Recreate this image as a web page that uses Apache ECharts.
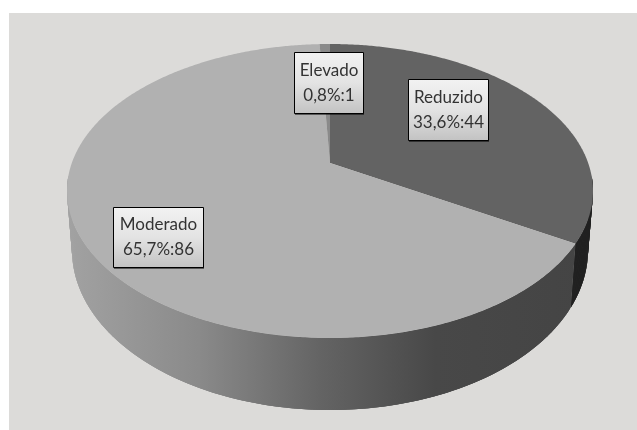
<!DOCTYPE html>
<html><head><meta charset="utf-8">
<style>html,body{margin:0;padding:0;background:#fff}#c{width:637px;height:430px}</style>
<script src="https://cdn.jsdelivr.net/npm/echarts@6/dist/echarts.min.js"></script>
</head><body><div id="c"></div>
<script>
const categories = ['Reduzido', 'Moderado', 'Elevado'];
const values = [44, 86, 1];
const percentLabels = ['33,6%', '65,7%', '0,8%'];

const topColors = ['#636363', '#b1b1b1', '#8a8a8a'];
const labelBoxes = [[408.5, 79.5, 80, 61], [113.5, 207.5, 90, 60], [294.5, 52.5, 69, 61]];
const TOP = {cx: 330, cy: 191, rx: 263, ry: 147};
const BASE = {cx: 330, cy: 250, rx: 258, ry: 160};
const PERSPECTIVE = -0.19;
const VISIBLE_RIM = [95, 265];

const total = values.reduce((a, b) => a + b, 0);
function spanOf(i) {
  let before = 0;
  for (let k = 0; k < i; k++) before += values[k];
  return [before / total * 360, (before + values[i]) / total * 360];
}
function project(e, deg) {
  const t = deg * Math.PI / 180, u = Math.sin(t), v = -Math.cos(t), a = PERSPECTIVE;
  const d = 1 + a * v;
  return [e.cx + e.rx * u * Math.sqrt(1 - a * a) / d, e.cy + e.ry * (v + a) / d];
}
function arc(e, s, f) {
  const pts = [], n = Math.max(2, Math.ceil((f - s) / 0.5));
  for (let k = 0; k <= n; k++) pts.push(project(e, s + (f - s) * k / n));
  return pts;
}
const rimFill = [
  '#222222',
  {type: 'linear', global: true, x: 67, y: 0, x2: 593, y2: 0, colorStops: [
    {offset: 0, color: '#a2a2a2'}, {offset: 0.25, color: '#8a8a8a'},
    {offset: 0.48, color: '#646464'}, {offset: 0.7, color: '#484848'}, {offset: 1, color: '#444444'}]},
  '#444444'
];
const seriesData = categories.map((name, i) => ({name, value: values[i]}));

const option = {
  animation: false,
  graphic: [{type: 'rect', z: 0, silent: true, shape: {x: 9, y: 13, width: 628, height: 417}, style: {fill: '#dcdbd9'}}],
  series: [
    {type: 'custom', coordinateSystem: 'none', z: 2, silent: true, data: seriesData,
      renderItem(params) {
        const i = params.dataIndex, span = spanOf(i);
        const s = Math.max(span[0], VISIBLE_RIM[0]), f = Math.min(span[1], VISIBLE_RIM[1]);
        const children = [];
        if (f > s) {
          const upper = arc(TOP, s, f), lower = arc(BASE, s, f);
          for (let k = 0; k + 1 < upper.length; k++) {
            const e = Math.min(k + 3, upper.length - 1);
            children.push({type: 'polygon', shape: {points: [upper[k], upper[e], lower[e], lower[k]]},
              style: {fill: rimFill[i]}});
          }
        }
        return {type: 'group', children};
      }},
    {type: 'custom', coordinateSystem: 'none', z: 3, silent: true, data: seriesData,
      renderItem(params) {
        const i = params.dataIndex, [s, f] = spanOf(i);
        const apex = [TOP.cx, TOP.cy + TOP.ry * PERSPECTIVE];
        return {type: 'polygon', shape: {points: [apex].concat(arc(TOP, s, f))}, style: {fill: topColors[i]}};
      }},
    {type: 'custom', coordinateSystem: 'none', z: 4, silent: true, data: seriesData,
      renderItem(params) {
        const i = params.dataIndex, [x, y, w, h] = labelBoxes[i];
        const font = {fontFamily: 'Lato', fontSize: 17, fill: '#333333', align: 'center', verticalAlign: 'middle'};
        return {type: 'group', children: [
          {type: 'rect', shape: {x: x + 0.5, y: y + 1, width: w, height: h}, style: {fill: '#000'}},
          {type: 'rect', shape: {x: x, y: y, width: w, height: h},
            style: {stroke: '#000', lineWidth: 1, fill: {type: 'linear', x: 0, y: 0, x2: 0, y2: 1, colorStops: [
              {offset: 0, color: '#f2f2f2'}, {offset: 0.5, color: '#e3e3e3'}, {offset: 1, color: '#c2c2c2'}]}}},
          {type: 'text', style: Object.assign({x: x + w / 2, y: y + h / 2 - 12.5, text: categories[i]}, font)},
          {type: 'text', style: Object.assign({x: x + w / 2, y: y + h / 2 + 12.5, text: percentLabels[i] + ':' + values[i]}, font)}
        ]};
      }}
  ]
};
echarts.init(document.getElementById('c')).setOption(option);
</script></body></html>
